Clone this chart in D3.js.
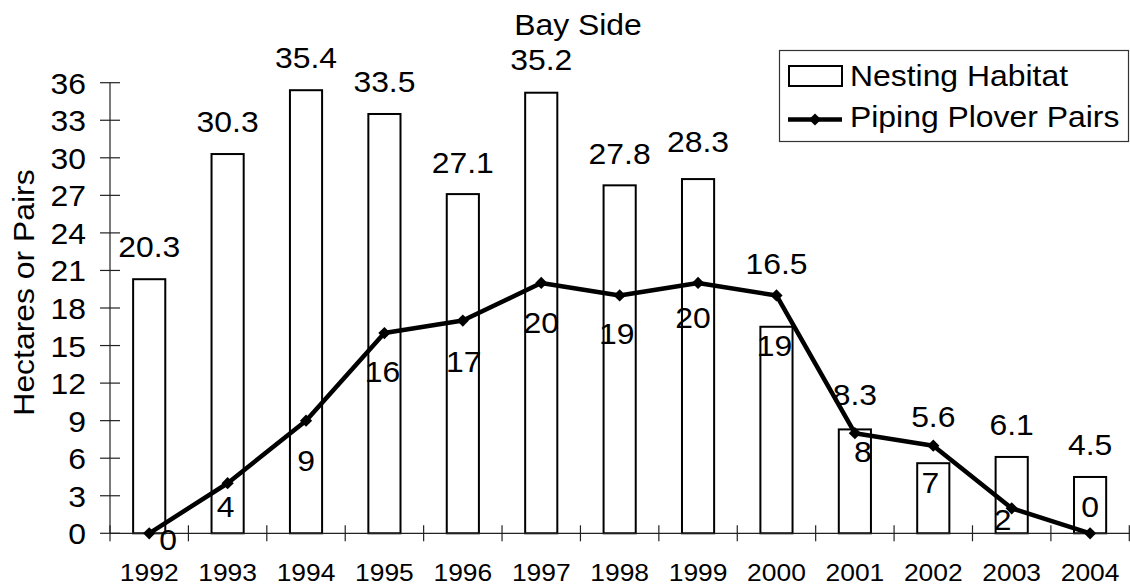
<!DOCTYPE html>
<html>
<head>
<meta charset="utf-8">
<script src="https://cdn.jsdelivr.net/npm/d3@7"></script>
<style>
  html, body { margin: 0; padding: 0; background: #fff; }
  svg { display: block; }
  text { font-family: "Liberation Sans", Arial, Helvetica, sans-serif; fill: #000; }
</style>
</head>
<body>
<svg id="chart" width="1130" height="586"></svg>
<script>
// ---- data ----
const years = ["1992","1993","1994","1995","1996","1997","1998","1999","2000","2001","2002","2003","2004"];
const nestingHabitat = [20.3, 30.3, 35.4, 33.5, 27.1, 35.2, 27.8, 28.3, 16.5, 8.3, 5.6, 6.1, 4.5];
const ploverPairs = [0, 4, 9, 16, 17, 20, 19, 20, 19, 8, 7, 2, 0];
const yTickValues = [0, 3, 6, 9, 12, 15, 18, 21, 24, 27, 30, 33, 36];
const chartTitle = "Bay Side";
const yAxisTitle = "Hectares or Pairs";
const seriesNames = ["Nesting Habitat", "Piping Plover Pairs"];

// ---- label placement (layout, in px) ----
const barLabelGap = [22, 22, 22, 22, 21, 23, 21, 27, 53, 24, 36, 22, 22];
const pairLabelDx = [19, -2, 0, -2, 1, 0, -3, -5, -2, 8, -3, -9, 0];
const pairLabelDy = [17, 34, 50, 49, 51, 50, 49, 45, 61, 29, 47, 22, -16];

const SX = 1.1; // horizontal glyph stretch of the original rendering
const svg = d3.select("#chart");

const x = d3.scaleBand().domain(years).range([110, 1129.3]).padding(0);
const y = d3.scaleLinear().domain([0, 36]).range([533.3, 82.7]);
const barW = x.bandwidth() * 0.41;
const cx = d => x(d) + x.bandwidth() / 2;

function label(g, txt, tx, ty, size, anchor, rot) {
  return g.append("text")
    .attr("transform", `translate(${tx},${ty})` + (rot ? ` rotate(${rot})` : "") + ` scale(${SX},1)`)
    .attr("text-anchor", anchor)
    .attr("font-size", size)
    .text(txt);
}

// bars
svg.append("g").selectAll("rect").data(years).join("rect")
  .attr("x", d => cx(d) - barW / 2)
  .attr("y", (d, i) => y(nestingHabitat[i]))
  .attr("width", barW)
  .attr("height", (d, i) => y(0) - y(nestingHabitat[i]))
  .attr("fill", "#fff").attr("stroke", "#000").attr("stroke-width", 2);

// axes
const ax = svg.append("g").attr("stroke", "#222").attr("stroke-width", 1.2);
ax.append("line").attr("x1", 110).attr("x2", 110).attr("y1", y(36)).attr("y2", y(0));
ax.append("line").attr("x1", 110).attr("x2", 1130).attr("y1", y(0)).attr("y2", y(0));
ax.selectAll(".yt").data(yTickValues).join("line")
  .attr("x1", 100).attr("x2", 120).attr("y1", d => y(d)).attr("y2", d => y(d));
ax.selectAll(".xt").data(years.concat(["end"])).join("line")
  .attr("x1", (d, i) => i < years.length ? x(d) : x(years[years.length - 1]) + x.bandwidth())
  .attr("x2", (d, i) => i < years.length ? x(d) : x(years[years.length - 1]) + x.bandwidth())
  .attr("y1", y(0) - 8).attr("y2", y(0) + 8);

const tg = svg.append("g");
yTickValues.forEach(v => label(tg, String(v), 86, y(v) + 11, 29, "end"));
years.forEach(d => label(tg, d, cx(d), 581, 24, "middle"));

// line series
const line = d3.line().x((d, i) => cx(years[i])).y(d => y(d));
svg.append("path").datum(ploverPairs)
  .attr("d", line).attr("fill", "none").attr("stroke", "#000")
  .attr("stroke-width", 4.5).attr("stroke-linejoin", "round");
const diamond = d3.symbol().type(d3.symbolDiamond2 || d3.symbolDiamond).size(95);
svg.append("g").selectAll("path").data(ploverPairs).join("path")
  .attr("transform", (d, i) => `translate(${cx(years[i])},${y(d)}) rotate(0)`)
  .attr("d", d3.symbol().type(d3.symbolSquare).size(75)())
  .attr("transform", (d, i) => `translate(${cx(years[i])},${y(d)}) rotate(45)`)
  .attr("fill", "#000");

// value labels
const lg = svg.append("g");
nestingHabitat.forEach((v, i) => label(lg, v.toFixed(1), cx(years[i]), y(v) - barLabelGap[i], 29, "middle"));
ploverPairs.forEach((v, i) => label(lg, String(v), cx(years[i]) + pairLabelDx[i], y(v) + pairLabelDy[i], 29, "middle"));

// titles
label(svg, chartTitle, 578, 35, 29, "middle");
label(svg, yAxisTitle, 34, 292.5, 29, "middle", -90);

// legend
const leg = svg.append("g");
leg.append("rect").attr("x", 779.5).attr("y", 50.5).attr("width", 349).attr("height", 91)
  .attr("fill", "#fff").attr("stroke", "#333").attr("stroke-width", 1.2);
leg.append("rect").attr("x", 789).attr("y", 66).attr("width", 53).attr("height", 20)
  .attr("fill", "#fff").attr("stroke", "#000").attr("stroke-width", 2);
label(leg, seriesNames[0], 850, 86, 29, "start");
leg.append("line").attr("x1", 788).attr("x2", 842).attr("y1", 119.5).attr("y2", 119.5)
  .attr("stroke", "#000").attr("stroke-width", 4.5);
leg.append("path").attr("d", d3.symbol().type(d3.symbolSquare).size(75)())
  .attr("transform", "translate(815,119.5) rotate(45)").attr("fill", "#000");
label(leg, seriesNames[1], 850, 127, 29, "start");
</script>
</body>
</html>
